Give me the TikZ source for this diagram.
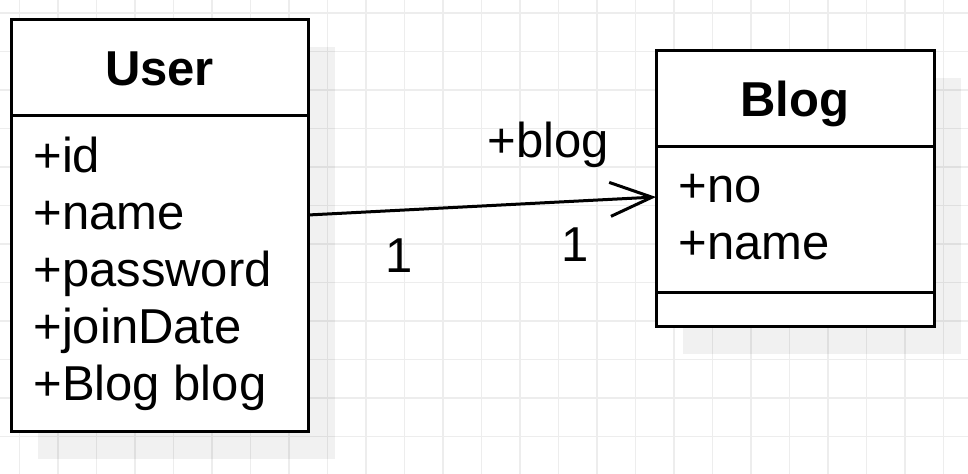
\documentclass[tikz,border=0pt]{standalone}
\usepackage{fontspec}
\setmainfont{Liberation Sans}
\usepackage{tikz}
\usetikzlibrary{arrows.meta}
\definecolor{gridgray}{HTML}{EDEDED}

\begin{document}
\begin{tikzpicture}[
		x=0.5pt, y=-0.5pt,
		font=\fontsize{24.5}{28.5}\selectfont,
		classbox/.style={draw, line width=1.5pt, fill=white, inner sep=0pt, outer sep=0pt},
		shadowbox/.style={fill=black, fill opacity=0.055, draw=none, inner sep=0pt, outer sep=0pt},
		attr/.style={anchor=base west, inner sep=0pt},
		title/.style={anchor=base, inner sep=0pt, font=\fontsize{24.5}{28.5}\selectfont\bfseries},
		mult/.style={anchor=base west, inner sep=0pt},
		assoc/.style={-{Straight Barb[length=21pt, width=17pt, line width=1.5pt]}, line width=1.5pt}
		]
		\useasboundingbox (0,0) rectangle (968,474);
		\fill[white] (0,0) rectangle (968,474);
		% background grid
		\foreach \gx in {0,...,24}
			\draw[gridgray, line width=0.75pt] ({19.5+38.5*\gx},0) -- ({19.5+38.5*\gx},474);
		\foreach \gy in {0,...,12}
			\draw[gridgray, line width=0.75pt] (0,{13+38.5*\gy}) -- (968,{13+38.5*\gy});
		% shadows
		\node[shadowbox, minimum width=148.5pt, minimum height=206pt] (usershadow) at (186.5,253) {};
		\node[shadowbox, minimum width=139pt, minimum height=138pt] (blogshadow) at (822,216) {};
		% classes
		\node[classbox, minimum width=148.5pt, minimum height=206pt] (user) at (159.5,226) {};
		\node[classbox, minimum width=139pt, minimum height=138pt] (blog) at (795,189) {};
		\draw[line width=1.5pt] (user.west |- 0,116) -- (user.east |- 0,116);
		\draw[line width=1.5pt] (blog.west |- 0,147) -- (blog.east |- 0,147);
		\draw[line width=1.5pt] (blog.west |- 0,293) -- (blog.east |- 0,293);
		\node[title] (usertitle) at (159.5,86) {User};
		\node[title] (blogtitle) at (795,117) {Blog};
		\node[attr] (uid) at (33,173) {+id};
		\node[attr] (uname) at (33,230) {+name};
		\node[attr] (upass) at (33,287) {+password};
		\node[attr] (ujoin) at (33,344) {+joinDate};
		\node[attr] (ublog) at (33,401) {+Blog blog};
		\node[attr] (bno) at (678,203) {+no};
		\node[attr] (bname) at (678,260) {+name};
		% association
		\draw[assoc] ([yshift=5.5pt]user.east) -- ([yshift=-4pt]blog.west);
		\node[mult] (rolelabel) at (487,158) {+blog};
		\node[mult] (srcmult) at (385,273) {1};
		\node[mult] (dstmult) at (561,262) {1};
	\end{tikzpicture}
\end{document}
